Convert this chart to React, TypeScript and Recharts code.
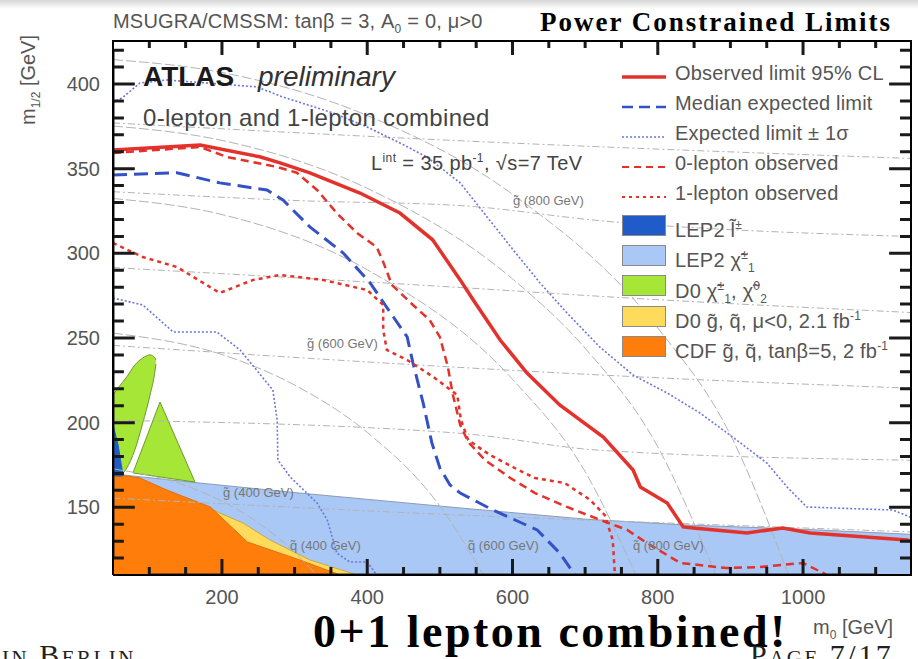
import React from 'react';
import { ComposedChart, Line, Area, XAxis, YAxis } from 'recharts';

const RED = '#e3322b';
const BLUE = '#3452c6';
const BLUE_DOT = '#6c76dc';
const CONTOUR = '#b3b3b3';
const TXT = '#555';
const TICK = '#1a1a1a';
const SANS = '"Liberation Sans", Arial, Helvetica, sans-serif';
const SERIF = '"Liberation Serif", "Times New Roman", serif';

// limits in the (m0, m1/2) plane, GeV
const observedLimit = [
  [50, 361], [170, 364], [252, 357], [280, 353.4], [321, 347.5], [390, 335.6], [445, 323.8],
  [490, 308], [528, 284.3], [546, 272.4], [583, 248.8], [620, 229.3], [665, 210.4], [725, 191.5],
  [766, 172], [776, 162], [813, 152.5], [835, 138.4], [849, 137.8], [923, 134.8], [972, 137.8],
  [1010, 134.8], [1143, 130.7], [1150, 130],
];
const medianExpected = [
  [50, 346.3], [138, 347.6], [197, 341.6], [262, 337.4], [284, 331.5], [321, 315.6], [367, 300.2],
  [404, 282.5], [436, 262.4], [455, 250.6], [463, 235.2], [477, 211.6], [489, 188], [500, 173.2],
  [514, 163.2], [528, 158.4], [573, 148.4], [634, 136.6], [665, 123], [686, 110],
];
const expectedUp = [
  [50, 388.8], [64, 392.3], [87, 400.6], [124, 402.4], [248, 398.3], [284, 392.3], [353, 382.9],
  [400, 374.6], [445, 365.2], [482, 356.9], [528, 341.6], [565, 321.5], [601, 302], [638, 282.5],
  [675, 264.8], [720, 244.7], [766, 228.1], [813, 217.5], [858, 205.7], [903, 191.5], [950, 176.2],
  [978, 162], [1005, 150.2], [1041, 149.6], [1124, 148.4], [1150, 143.7],
];
const expectedDown = [
  [50, 273.6], [91, 269.5], [133, 253.5], [193, 253.5], [225, 242.9], [270, 219.3], [276, 201.6],
  [277, 177.9], [294, 167.9], [331, 152.5], [345, 142.5], [358, 123], [376, 117.7], [400, 117.7],
  [413, 110],
];
const zeroLepton = [
  [50, 359.3], [170, 362.8], [207, 356.9], [276, 351], [303, 347.6], [331, 337.4], [358, 323.8],
  [386, 312], [413, 303.7], [422, 294.9], [434, 281.3], [463, 269.5], [486, 260.6], [500, 250.6],
  [511, 232.9], [518, 216.3], [528, 198.6], [539, 188.6], [562, 177.9], [597, 167.3], [631, 158.4],
  [675, 150.2], [721, 142.5], [758, 136.6], [785, 128.9], [831, 117.1], [895, 114.1], [941, 114.7],
  [1000, 117.1], [1033, 110],
];
const oneLepton = [
  [50, 306.1], [91, 297.8], [138, 291.9], [197, 276.6], [243, 284.3], [280, 287.2], [339, 284.3],
  [400, 278.3], [422, 269.5], [422, 254.7], [427, 242.9], [455, 237], [491, 227], [524, 216.3],
  [529, 201.6], [539, 189.7], [569, 180.9], [603, 173.2], [631, 167.3], [672, 164.3], [707, 154.3],
  [727, 145.4], [738, 130.7], [741, 110],
];

// excluded regions from earlier experiments
const lep2Chargino = [[50, 169.7], [170, 164.3], [307, 158.4], [528, 149.6], [700, 143], [840, 139.5], [1000, 137], [1150, 134]];
const d0Squark = [[50, 169], [177, 150.8], [197, 146.6], [229, 140.7], [266, 130.7], [321, 118.9], [386, 110]];
const cdfSquark = [[50, 169.7], [87, 167.3], [124, 160.2], [184, 150.2], [235, 129.5], [307, 118.9], [363, 110]];
// [m0, low, high]
const d0CharginoA = [[50, 170.8, 216.3], [57, 168.5, 220.5], [69, 173.2, 227], [80, 183.8, 234], [91, 199.8, 238.2], [101, 216.3, 240], [108, 231.1, 238.2], [109, 234.6, 237]];
const d0CharginoB = [[77.5, 170.3, 170.3], [114.7, 167.9, 212.2], [162.9, 164.9, 164.9]];
const lep2Slepton = [[50, 168.5, 198.6], [57, 168.5, 186.8], [64, 168.5, 168.5]];

// iso-mass contours
const gluinoContours = [
  [[50, 377], [528, 366.5], [1150, 356]],
  [[50, 336.4], [307, 331.1], [528, 328.2], [720, 319.3], [1150, 309.9]],
  [[50, 291.6], [528, 279.8], [748, 273.9], [1150, 265]],
  [[50, 245.6], [528, 232.6], [789, 226.7], [1150, 220.3]],
  [[50, 201.4], [528, 193.7], [720, 183.7], [1150, 177.8]],
  [[50, 155.4], [528, 145.4], [968, 138.3], [1150, 135.4]],
];
const squarkContours = [
  [[50, 172.7], [150, 162.8], [250, 140.8], [300, 123.5], [330, 110]],
  [[50, 252.9], [200, 240.2], [300, 222.2], [400, 194.2], [500, 150.7], [560, 110]],
  [[50, 332.4], [200, 322.9], [400, 290.3], [600, 225.6], [700, 171], [770, 110]],
  [[50, 375.2], [200, 366.7], [400, 338.4], [600, 284.9], [700, 243.9], [800, 185.7], [880, 110]],
  [[50, 414.4], [200, 406.8], [400, 381.4], [600, 334.9], [800, 255.9], [900, 192.8], [980, 110]],
];

const xTicks = [100, 150, 200, 250, 300, 350, 400, 450, 500, 550, 600, 650, 700, 750, 800, 850, 900, 950, 1000, 1050, 1100];
const yTicks = [120, 130, 140, 150, 160, 170, 180, 190, 200, 210, 220, 230, 240, 250, 260, 270, 280, 290, 300, 310, 320, 330, 340, 350, 360, 370, 380, 390, 400, 410, 420];
const X_MIN = 50, X_MAX = 1150, Y_MIN = 110, Y_MAX = 426;

const W = 918, H = 659;
const MARGIN = { top: 40, right: 6, bottom: 54, left: 73 };
const Y_AXIS_W = 40, X_AXIS_H = 30;

const toPts = (arr: number[][]) => arr.map(([x, y]) => ({ x, y }));
const toBand = (arr: number[][]) => arr.map(([x, lo, hi]) => ({ x, y: [lo, hi] }));

const frameTop = [{ x: X_MIN, y: Y_MAX }, { x: X_MAX, y: Y_MAX }];
const frameRight = [{ x: X_MAX, y: Y_MIN }, { x: X_MAX, y: Y_MAX }];

// inward tick marks as combs along each edge (lengths in axis units)
const xComb = (edge: number, major: number, minor: number) =>
  xTicks.flatMap((v) => [
    { x: v, y: edge },
    { x: v, y: edge + (v % 200 === 0 ? major : minor) },
    { x: v, y: edge },
  ]);
const yComb = (edge: number, major: number, minor: number) =>
  yTicks.flatMap((v) => [
    { x: edge, y: v },
    { x: edge + (v % 50 === 0 ? major : minor), y: v },
    { x: edge, y: v },
  ]);
const tickCombs = [
  xComb(Y_MIN, 9.4, 4.7),
  xComb(Y_MAX, -8.9, -4.7),
  yComb(X_MIN, 30, 15),
  yComb(X_MAX, -31.5, -16.5),
];

const axisLine = { stroke: '#000', strokeWidth: 2 };

function BottomTick({ x, y, payload }: any) {
  if (payload.value % 200 !== 0) return <g />;
  return (
    <text x={x} y={y + 29} textAnchor="middle" fontSize={20} fill={TXT} fontFamily={SANS}>
      {payload.value}
    </text>
  );
}
function LeftTick({ x, y, payload }: any) {
  if (payload.value % 50 !== 0) return <g />;
  return (
    <text x={x - 13} y={y + 7} textAnchor="end" fontSize={20} fill={TXT} fontFamily={SANS}>
      {payload.value}
    </text>
  );
}

function T({ x, cy, size, children, style }: any) {
  return (
    <div
      style={{
        position: 'absolute', left: x, top: cy - 0.49 * size, fontSize: size, lineHeight: `${size}px`,
        whiteSpace: 'nowrap', color: TXT, fontFamily: SANS, ...style,
      }}
    >
      {children}
    </div>
  );
}

const lineLegend = [
  { label: 'Observed limit 95% CL', color: RED, width: 3.5, dash: '' },
  { label: 'Median expected limit', color: BLUE, width: 2.5, dash: '11 6' },
  { label: 'Expected limit \u00b1 1\u03c3', color: BLUE_DOT, width: 1.5, dash: '2 2' },
  { label: '0-lepton observed', color: RED, width: 2, dash: '7 5' },
  { label: '1-lepton observed', color: RED, width: 2, dash: '3 4' },
];
const sub = (s: string) => <sub style={{ fontSize: '0.6em' }}>{s}</sub>;
const sup = (s: string) => <sup style={{ fontSize: '0.6em' }}>{s}</sup>;
const fillLegend = [
  { color: '#1f5cc9', label: <>LEP2 l{'\u0303'}{sup('\u00b1')}</> },
  { color: '#a9c8f5', label: <>LEP2 {'\u03c7\u0303'}{sup('\u00b1')}{sub('1')}</> },
  { color: '#a6e636', label: <>D0 {'\u03c7\u0303'}{sup('\u00b1')}{sub('1')}, {'\u03c7\u0303'}{sup('0')}{sub('2')}</> },
  { color: '#ffdb5c', label: <>D0 g{'\u0303'}, q{'\u0303'}, {'\u03bc'}&lt;0, 2.1 fb{sup('-1')}</> },
  { color: '#ff7d0a', label: <>CDF g{'\u0303'}, q{'\u0303'}, tan{'\u03b2'}=5, 2 fb{sup('-1')}</> },
];

const massLabels = [
  { text: 'g\u0303 (800 GeV)', x: 513, cy: 200 },
  { text: 'g\u0303 (600 GeV)', x: 307, cy: 343 },
  { text: 'g\u0303 (400 GeV)', x: 223, cy: 492 },
  { text: 'q\u0303 (400 GeV)', x: 290, cy: 545 },
  { text: 'q\u0303 (600 GeV)', x: 468, cy: 545 },
  { text: 'q\u0303 (800 GeV)', x: 633, cy: 545 },
];

export default function App() {
  return (
    <div style={{ position: 'absolute', left: 0, top: 0, width: W, height: H, overflow: 'hidden', background: '#fff' }}>
      <div style={{ position: 'absolute', left: 0, top: 0, width: W, height: 9, background: 'linear-gradient(#d6d6d6, #fff)' }} />
      <ComposedChart width={W} height={H} margin={MARGIN}>
        <XAxis dataKey="x" type="number" domain={[X_MIN, X_MAX]} allowDataOverflow ticks={xTicks} interval={0}
          tickSize={0} tickMargin={0} tickLine={false} tick={<BottomTick />} axisLine={axisLine} height={X_AXIS_H} />
        <YAxis type="number" domain={[Y_MIN, Y_MAX]} allowDataOverflow ticks={yTicks} interval={0}
          tickSize={0} tickMargin={0} tickLine={false} tick={<LeftTick />} axisLine={axisLine} width={Y_AXIS_W} />

        <Area data={toPts(lep2Chargino)} dataKey="y" type="linear" fill="#a9c8f5" fillOpacity={1} stroke="#8c9cb4" strokeWidth={1} dot={false} activeDot={false} isAnimationActive={false} />
        <Area data={toPts(d0Squark)} dataKey="y" type="linear" fill="#ffdb5c" fillOpacity={1} stroke="#c9a84a" strokeWidth={1} dot={false} activeDot={false} isAnimationActive={false} />
        <Area data={toPts(cdfSquark)} dataKey="y" type="linear" fill="#ff7d0a" fillOpacity={1} stroke="#e07010" strokeWidth={1} dot={false} activeDot={false} isAnimationActive={false} />
        <Area data={toBand(d0CharginoA)} dataKey="y" type="monotone" fill="#a6e636" fillOpacity={1} stroke="#6c9a2a" strokeWidth={1} dot={false} activeDot={false} isAnimationActive={false} />
        <Area data={toBand(d0CharginoB)} dataKey="y" type="linear" fill="#a6e636" fillOpacity={1} stroke="#6c9a2a" strokeWidth={1} dot={false} activeDot={false} isAnimationActive={false} />
        <Area data={toBand(lep2Slepton)} dataKey="y" type="linear" fill="#1f5cc9" fillOpacity={1} stroke="#1f5cc9" strokeWidth={1} dot={false} activeDot={false} isAnimationActive={false} />

        {gluinoContours.map((c, i) => (
          <Line key={`g${i}`} data={toPts(c)} dataKey="y" type="monotone" stroke={CONTOUR} strokeWidth={1}
            strokeDasharray="7 3 2 3" dot={false} activeDot={false} isAnimationActive={false} />
        ))}
        {squarkContours.map((c, i) => (
          <Line key={`q${i}`} data={toPts(c)} dataKey="y" type="monotone" stroke={CONTOUR} strokeWidth={1}
            strokeDasharray="10 3" dot={false} activeDot={false} isAnimationActive={false} />
        ))}

        <Line data={toPts(expectedUp)} dataKey="y" type="linear" stroke={BLUE_DOT} strokeWidth={1.6} strokeDasharray="2 2" dot={false} activeDot={false} isAnimationActive={false} />
        <Line data={toPts(expectedDown)} dataKey="y" type="linear" stroke={BLUE_DOT} strokeWidth={1.6} strokeDasharray="2 2" dot={false} activeDot={false} isAnimationActive={false} />
        <Line data={toPts(medianExpected)} dataKey="y" type="linear" stroke={BLUE} strokeWidth={3} strokeDasharray="14 7" dot={false} activeDot={false} isAnimationActive={false} />
        <Line data={toPts(oneLepton)} dataKey="y" type="linear" stroke={RED} strokeWidth={2.5} strokeDasharray="4 4" dot={false} activeDot={false} isAnimationActive={false} />
        <Line data={toPts(zeroLepton)} dataKey="y" type="linear" stroke={RED} strokeWidth={2.5} strokeDasharray="8 5" dot={false} activeDot={false} isAnimationActive={false} />
        <Line data={toPts(observedLimit)} dataKey="y" type="linear" stroke={RED} strokeWidth={3.5} dot={false} activeDot={false} isAnimationActive={false} />

        {tickCombs.map((c, i) => (
          <Line key={`tick${i}`} data={c} dataKey="y" type="linear" stroke={TICK} strokeWidth={3}
            dot={false} activeDot={false} isAnimationActive={false} />
        ))}
        <Line data={frameTop} dataKey="y" type="linear" stroke="#000" strokeWidth={4} dot={false} activeDot={false} isAnimationActive={false} />
        <Line data={frameRight} dataKey="y" type="linear" stroke="#000" strokeWidth={4} dot={false} activeDot={false} isAnimationActive={false} />
      </ComposedChart>

      <T x={113} cy={21} size={20} style={{ letterSpacing: 0.2 }}>MSUGRA/CMSSM: tan{'\u03b2'} = 3, A{sub('0')} = 0, {'\u03bc'}&gt;0</T>
      <T x={540} cy={22} size={27} style={{ fontFamily: SERIF, fontWeight: 700, color: '#000', letterSpacing: 2 }}>Power Constrained Limits</T>
      <T x={143} cy={77} size={28} style={{ fontWeight: 700, color: '#1a1a1a' }}>ATLAS</T>
      <T x={258} cy={77} size={28} style={{ fontStyle: 'italic', color: '#333' }}>preliminary</T>
      <T x={143} cy={118} size={24} style={{ color: '#444', letterSpacing: 0.3 }}>0-lepton and 1-lepton combined</T>
      <T x={371} cy={158} size={20} style={{ color: '#444', letterSpacing: 0.4 }}>L{sup('int')} = 35 pb{sup('-1')}, {'\u221a'}s=7 TeV</T>

      {massLabels.map((m) => (
        <T key={m.text + m.x} x={m.x} cy={m.cy} size={13} style={{ color: '#777' }}>{m.text}</T>
      ))}

      {lineLegend.map((l, i) => (
        <div key={l.label} style={{ position: 'absolute', left: 622, top: 73 + i * 30 - 5 }}>
          <svg width={44} height={10}>
            <line x1={0} x2={44} y1={5} y2={5} stroke={l.color} strokeWidth={l.width} strokeDasharray={l.dash} />
          </svg>
        </div>
      ))}
      {lineLegend.map((l, i) => (
        <T key={`t${l.label}`} x={675} cy={73 + i * 30} size={20} style={{ letterSpacing: 0.2 }}>{l.label}</T>
      ))}
      {fillLegend.map((f, i) => (
        <div key={`f${i}`}>
          <div style={{ position: 'absolute', left: 622, top: 225 + i * 30.2 - 10, width: 42, height: 19, background: f.color, border: '1px solid #8a8a8a' }} />
          <T x={675} cy={225 + i * 30.2} size={20} style={{ letterSpacing: 0.2 }}>{f.label}</T>
        </div>
      ))}

      <div style={{ position: 'absolute', left: 30, top: 80, transform: 'translate(-50%, -50%) rotate(-90deg)', fontSize: 20, color: TXT, fontFamily: SANS, whiteSpace: 'nowrap' }}>
        m{sub('1/2')} [GeV]
      </div>
      <T x={813} cy={627} size={20}>m{sub('0')} [GeV]</T>
      <T x={313} cy={632} size={46} style={{ fontFamily: SERIF, fontWeight: 700, color: '#000', letterSpacing: 2.5 }}>0+1 lepton combined!</T>
      <T x={2} cy={655} size={30} style={{ fontFamily: SERIF, fontVariant: 'small-caps', color: '#222', letterSpacing: 2.5 }}>in Berlin</T>
      <T x={750} cy={655} size={30} style={{ fontFamily: SERIF, fontVariant: 'small-caps', color: '#222', letterSpacing: 2.5 }}>Page 7/17</T>
    </div>
  );
}
